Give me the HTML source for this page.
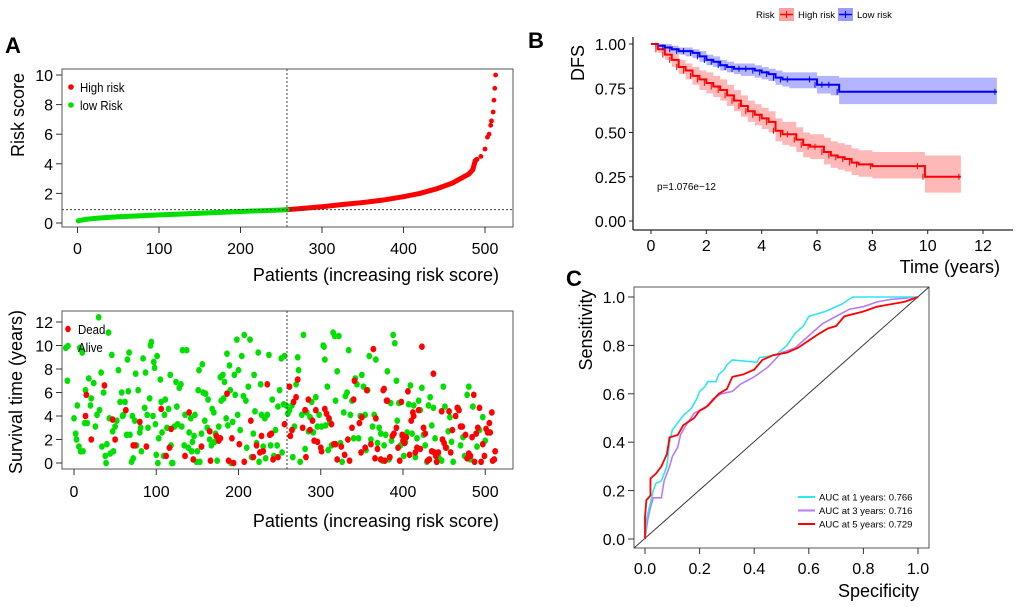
<!DOCTYPE html>
<html><head><meta charset="utf-8"><style>
body{margin:0;background:#fff;width:1020px;height:607px;overflow:hidden}
svg{display:block;font-family:"Liberation Sans",Arial,sans-serif}
</style></head><body>
<svg id="fig" width="1020" height="607" viewBox="0 0 1020 607">
<g id="pA1"></g>
<g id="pA2"></g>
<g id="pB"></g>
<g id="pC"></g>
</svg>
<script>
// ---- Panel A top data
const riskPatients=[1,10,25,50,75,100,125,150,175,200,225,250,257,275,300,325,350,375,400,420,440,460,470,480,485,488,490,495,500,503,505,507,508,510,511,512,513];
const riskValues=[0.15,0.25,0.33,0.42,0.48,0.55,0.6,0.66,0.72,0.78,0.83,0.88,0.9,0.98,1.1,1.25,1.38,1.55,1.78,2.0,2.3,2.7,3.0,3.3,3.6,4.2,4.3,4.5,5.0,5.8,6.0,6.6,6.9,7.5,8.3,9.1,10.0];
const riskTicksX=[0,100,200,300,400,500];
const riskTicksY=[0,2,4,6,8,10];
const cutoffPatient=257, cutoffRisk=0.9;
// ---- Panel A bottom data
const aliveX=[-10,-8,0,2,3,4,6,7,8,10,11,13,14,16,18,20,21,24,26,28,30,31,33,34,36,38,39,40,42,43,44,46,47,48,50,52,54,56,58,59,60,62,64,65,66,67,68,70,71,72,74,75,76,78,80,81,82,84,86,87,89,90,92,93,94,96,97,98,99,100,101,102,103,105,106,107,109,110,111,113,115,117,118,119,120,122,124,125,126,128,130,131,132,134,135,137,139,140,142,143,144,146,147,149,150,151,152,153,155,156,157,159,160,162,163,165,167,168,170,171,172,174,176,178,179,181,182,183,185,186,187,189,190,191,193,195,196,198,199,200,202,204,206,207,209,210,212,214,216,218,219,220,222,224,225,227,228,230,232,233,235,237,239,241,243,245,247,248,250,252,253,255,256,258,260,262,265,266,268,270,272,273,275,277,279,281,283,285,287,289,291,294,296,298,301,303,304,305,306,308,309,311,313,315,317,318,320,322,324,326,328,330,332,334,336,338,340,342,344,346,348,350,352,354,355,357,359,361,363,365,367,369,371,373,375,377,379,381,383,385,386,388,390,392,393,395,397,399,401,403,405,407,409,411,413,415,417,419,421,423,425,427,429,431,433,435,437,439,441,443,445,447,449,451,453,455,457,459,461,467,470,473,475,477,478,480,482,485,490,493,497,500];
const aliveY=[9.8,7,3.8,2.5,2,4.9,1.4,9.8,1,9.4,1,3.4,6.2,3.4,7.2,4.9,5.5,6.8,3.1,4.1,12.4,4.5,7.7,1.4,6,0.6,0,1.6,11.1,3.8,0.8,9.2,2.7,1,3.1,3.6,7.9,5.2,6,4,4.1,5.2,2.4,8.8,6.1,9.4,2.4,0.1,4,0.4,3.6,7.6,1.5,6.2,2.6,3,1,8.9,4.7,7.7,4.1,3,5.5,10,10.3,4,8.6,8.1,3.3,0.7,9.1,0,2.1,7.1,5.2,2.6,0.6,4.1,5.4,3,4.6,7.5,1.5,0,0,3.1,6.9,4.8,3.3,6.4,6.7,3.1,9.6,1.5,4.1,9.6,1.3,2.6,3.8,1,1.8,2.3,4.1,0.1,1,6.2,7.9,0.1,2.5,8.4,6,3.6,5.9,3,5.4,2,1.5,4.6,4.3,1.8,2.5,0.2,3.1,7.3,5.3,7.5,5.5,6.9,3.8,9.3,3.2,8.3,6.2,0,3.5,7.5,5.8,10.5,4.1,7.9,2.8,9.1,5.7,10.9,5.3,1.3,6.5,10.5,0.5,2.5,7.5,4.4,1.7,9.4,0.1,6.7,4.1,1.4,3.8,0.4,4.1,9.2,1.5,5.4,0.6,2.8,1.5,4.8,6.2,8.9,0.9,5,9.1,4.9,4.2,4.5,4.9,0.5,3.1,6.7,9,7.9,0.1,4.1,10.9,1.2,4.3,2.7,3.9,5.2,2.6,5.6,3.1,4.1,3.1,10,9.9,8.8,3.2,6.5,1.1,3.5,1.5,11.1,10.8,5.3,7.8,10.8,1.7,0.1,4.3,5.7,6,9.6,4.1,5.3,2.1,7.2,6.7,2.1,4,7.5,6.5,4.1,1.1,6.2,9.1,2,3.1,4.1,8.8,1.7,3,2.5,0.2,1.5,2.4,7.8,0.3,5.1,1.9,10.9,10.2,7,3.6,5.1,1.5,2.3,0.6,1.8,2.6,5,6.6,2.5,4.9,0.5,2.1,5.3,4.5,6.4,2.4,1.5,0.1,4.9,5.6,3.2,4.7,2.1,0.1,0.5,0.3,0.2,6.5,4.8,1.3,2.7,3.9,1.8,0.1,4.7,1.5,2.2,0.6,0.5,5.8,6.5,0.3,4.8,1.4,2.8,3.9,1.9];
const deadX=[14,15,21,37,47,50,63,72,74,80,88,106,112,116,118,135,140,145,155,165,166,173,176,178,186,188,192,194,201,207,215,218,222,226,228,230,235,238,240,242,248,256,262,263,265,267,270,272,278,281,282,285,287,290,292,294,296,300,301,305,307,310,313,316,318,320,325,329,333,335,338,340,341,347,349,350,354,356,361,364,366,367,369,373,376,377,378,380,381,384,387,389,392,394,396,398,399,400,402,404,406,408,410,412,413,415,417,419,421,423,425,427,430,432,435,437,438,440,441,443,447,448,450,452,456,458,460,464,466,468,470,472,476,478,480,482,484,486,487,489,491,493,495,497,499,501,503,505,506,508,509,511,512];
const deadY=[4,5.8,2,6.6,3.7,2,4.5,1.5,1.5,3.5,1.4,4.6,0.6,1.3,2.9,0.6,4.3,0.3,1.4,2.7,0.2,2.3,1.9,2.1,5.9,0.2,2.1,0,1.6,0.1,3.6,0.5,1.5,0.9,2.3,1,6.7,2.4,2.5,0.3,0.5,3.3,6.5,2.3,2.8,5.2,5.6,7.1,3,4.5,0.5,5.4,2.8,3.6,1.9,4.5,1.8,1.3,1,4.6,4.2,3.8,3.3,1.6,1.6,0.3,1.4,0.7,2,0.2,3,5.4,7,3.4,0.9,3.9,1.3,6.2,1.6,9.7,0.4,3.8,1.2,0.3,6.2,6.3,0.2,5.3,5.3,0.5,2.3,2.5,3,1.3,0.2,5.2,2.4,1.9,1.7,2.2,6.1,0.7,3.6,4.3,4,0.9,1.3,4.5,1.2,9.9,3,2.5,0.2,0.3,1,7.6,0.9,0.6,0.1,0.9,4.4,2,1.7,1.3,4.4,0.9,2.8,4,4.7,4.5,3.1,3.1,2.4,0.4,0.8,0.6,2.2,5.8,0.1,2.5,3,4.7,0.1,1.6,0.6,2.9,2.6,3.4,2.6,4.3,0.2,0.3,1];
const survTicksY=[0,2,4,6,8,10,12];
// ---- Panel B data
const highT=[0,0.25,0.5,0.75,1,1.25,1.5,1.75,2,2.25,2.5,2.75,3,3.25,3.5,3.75,4,4.25,4.5,4.75,5,5.25,5.5,5.75,6,6.25,6.5,6.75,7,7.25,7.5,8,9.7,9.9,11.2];
const highS=[1,0.97,0.94,0.91,0.87,0.85,0.82,0.8,0.78,0.76,0.74,0.71,0.68,0.65,0.62,0.6,0.58,0.56,0.51,0.49,0.49,0.46,0.43,0.42,0.42,0.39,0.37,0.36,0.35,0.33,0.32,0.31,0.31,0.25,0.25];
const highLo=[1,0.95,0.91,0.87,0.83,0.8,0.77,0.74,0.72,0.7,0.68,0.65,0.62,0.59,0.56,0.54,0.52,0.5,0.45,0.43,0.42,0.39,0.36,0.35,0.35,0.32,0.3,0.29,0.28,0.26,0.25,0.24,0.24,0.16,0.16];
const highHi=[1,0.99,0.97,0.95,0.91,0.89,0.87,0.85,0.84,0.82,0.8,0.77,0.74,0.71,0.68,0.66,0.64,0.62,0.58,0.56,0.56,0.53,0.5,0.49,0.49,0.47,0.45,0.44,0.43,0.41,0.4,0.39,0.39,0.37,0.37];
const lowT=[0,0.25,0.5,0.75,1,1.25,1.5,1.75,2,2.25,2.5,2.75,3,3.25,3.5,3.75,4,4.25,4.5,4.75,5,5.8,6,6.25,6.5,6.8,12.5];
const lowS=[1,0.99,0.98,0.97,0.96,0.96,0.95,0.93,0.91,0.9,0.88,0.87,0.86,0.86,0.86,0.85,0.84,0.83,0.81,0.8,0.8,0.8,0.77,0.77,0.77,0.73,0.73];
const lowLo=[1,0.98,0.96,0.95,0.94,0.93,0.92,0.9,0.88,0.87,0.85,0.84,0.83,0.82,0.82,0.81,0.8,0.79,0.77,0.76,0.75,0.75,0.72,0.72,0.71,0.66,0.66];
const lowHi=[1,1,1,0.99,0.98,0.98,0.97,0.96,0.94,0.93,0.91,0.9,0.89,0.89,0.89,0.88,0.87,0.86,0.85,0.84,0.84,0.84,0.82,0.82,0.82,0.81,0.81];
const kmTicksX=[0,2,4,6,8,10,12];
const kmTicksY=[0,0.25,0.5,0.75,1];
// ---- Panel C data
const roc1X=[0,0.005,0.02,0.03,0.04,0.06,0.08,0.09,0.1,0.12,0.14,0.17,0.19,0.2,0.22,0.23,0.26,0.27,0.29,0.3,0.32,0.41,0.42,0.48,0.52,0.55,0.58,0.6,0.66,0.72,0.76,1];
const roc1Y=[0,0.08,0.15,0.2,0.23,0.24,0.3,0.4,0.45,0.48,0.51,0.54,0.58,0.61,0.63,0.65,0.65,0.68,0.7,0.72,0.74,0.73,0.75,0.76,0.8,0.85,0.88,0.92,0.94,0.97,1,1];
const roc3X=[0,0.01,0.02,0.03,0.06,0.07,0.09,0.1,0.12,0.13,0.15,0.18,0.22,0.25,0.28,0.32,0.35,0.4,0.45,0.5,0.55,0.6,0.65,0.7,0.75,0.8,0.85,0.9,1];
const roc3Y=[0,0.08,0.13,0.17,0.17,0.24,0.3,0.34,0.38,0.43,0.47,0.52,0.54,0.58,0.6,0.61,0.64,0.67,0.71,0.77,0.79,0.84,0.89,0.92,0.95,0.96,0.98,0.99,1];
const roc5X=[0,0,0.005,0.02,0.02,0.04,0.06,0.08,0.09,0.12,0.14,0.18,0.2,0.23,0.27,0.3,0.32,0.36,0.4,0.43,0.47,0.52,0.56,0.6,0.64,0.67,0.7,0.73,0.8,0.85,0.9,0.95,1];
const roc5Y=[0,0.09,0.16,0.18,0.25,0.27,0.3,0.35,0.42,0.43,0.47,0.5,0.53,0.55,0.6,0.62,0.67,0.68,0.7,0.74,0.76,0.77,0.79,0.82,0.85,0.87,0.88,0.92,0.94,0.96,0.97,0.98,1];
const rocTicks=[0,0.2,0.4,0.6,0.8,1];
const aucLabels=["AUC at 1 years: 0.766","AUC at 3 years: 0.716","AUC at 5 years: 0.729"];

const NS="http://www.w3.org/2000/svg";
function mk(parent,tag,attrs,text){const e=document.createElementNS(NS,tag);for(const k in attrs)e.setAttribute(k,attrs[k]);if(text!==undefined)e.textContent=text;parent.appendChild(e);return e;}
const fig=document.getElementById('fig');
let t;
t=mk(fig,'text',{x:5,y:53,'font-size':22,'font-weight':'bold'},'A');


t=mk(fig,'text',{x:528,y:48,'font-size':22,'font-weight':'bold'},'B');


t=mk(fig,'text',{x:566,y:286,'font-size':22,'font-weight':'bold'},'C');



// ===== Panel A top
(function(){
 const g=document.getElementById('pA1');
 const X=p=>77.5+p*0.815, Y=v=>223-v*14.8;
 let e=mk(g,'rect',{x:62,y:69,width:451,height:158,fill:'none',stroke:'#555','stroke-width':1});
 
 
 riskTicksY.forEach(v=>{mk(g,'line',{x1:56,x2:62,y1:Y(v),y2:Y(v),stroke:'#333'});
  e=mk(g,'text',{x:53,y:Y(v)+6,'font-size':16,'text-anchor':'end'},v);
  
  });
 riskTicksX.forEach(v=>{mk(g,'line',{x1:X(v),x2:X(v),y1:227,y2:233,stroke:'#333'});
  e=mk(g,'text',{x:X(v),y:254,'font-size':16,'text-anchor':'middle'},v);
  
  });
 e=mk(g,'text',{x:499,y:281,'font-size':18,'text-anchor':'end'},'Patients (increasing risk score)');
 
 
 e=mk(g,'text',{x:0,y:0,'font-size':18,'text-anchor':'middle',transform:'translate(24,115) rotate(-90)'},'Risk score');
 
 
 const lowPts=[],highPts=[];
 riskPatients.forEach((p,i)=>{const pt=X(p)+','+Y(riskValues[i]);if(p<=cutoffPatient)lowPts.push(pt);if(p>=cutoffPatient&&p<=490)highPts.push(pt);});
 e=mk(g,'polyline',{points:lowPts.join(' '),fill:'none',stroke:'#00e000','stroke-width':5,'stroke-linecap':'round'});
 
 
 e=mk(g,'polyline',{points:highPts.join(' '),fill:'none',stroke:'#ff0000','stroke-width':5,'stroke-linecap':'round'});
 
 
 riskPatients.forEach((p,i)=>{e=mk(g,'circle',{cx:X(p),cy:Y(riskValues[i]),r:2.4,fill:p<=cutoffPatient?'#00e000':'#ff0000'});
  
  });
 e=mk(g,'line',{x1:X(cutoffPatient),x2:X(cutoffPatient),y1:69,y2:227,stroke:'#444','stroke-dasharray':'2,2'});
 
 
 e=mk(g,'line',{x1:62,x2:513,y1:Y(cutoffRisk),y2:Y(cutoffRisk),stroke:'#444','stroke-dasharray':'2,2'});
 
 
 e=mk(g,'circle',{cx:71,cy:87,r:2.8,fill:'#ff0000'});
 
 
 e=mk(g,'text',{x:80,y:92,'font-size':13,transform:'scale(0.88,1)',style:'transform-origin:80px 92px'},'High risk');
 
 
 e=mk(g,'circle',{cx:71,cy:105,r:2.8,fill:'#00e000'});
 
 
 e=mk(g,'text',{x:80,y:110,'font-size':13,transform:'scale(0.88,1)',style:'transform-origin:80px 110px'},'low Risk');
 
 
})();

// ===== Panel A bottom
(function(){
 const g=document.getElementById('pA2');
 const X=p=>74+p*0.8225, Y=v=>463-v*11.75;
 let e=mk(g,'rect',{x:62,y:311,width:451,height:158,fill:'none',stroke:'#555'});
 
 
 survTicksY.forEach(v=>{mk(g,'line',{x1:56,x2:62,y1:Y(v),y2:Y(v),stroke:'#333'});
  e=mk(g,'text',{x:53,y:Y(v)+6,'font-size':16,'text-anchor':'end'},v);
  
  });
 riskTicksX.forEach(v=>{mk(g,'line',{x1:X(v),x2:X(v),y1:469,y2:475,stroke:'#333'});
  e=mk(g,'text',{x:X(v),y:497,'font-size':16,'text-anchor':'middle'},v);
  
  });
 e=mk(g,'text',{x:499,y:527,'font-size':18,'text-anchor':'end'},'Patients (increasing risk score)');
 
 
 e=mk(g,'text',{x:0,y:0,'font-size':18,'text-anchor':'middle',transform:'translate(22,392) rotate(-90)'},'Survival time (years)');
 
 
 aliveX.forEach((p,i)=>{e=mk(g,'ellipse',{cx:X(p),cy:Y(aliveY[i]),rx:2.9,ry:3.3,fill:'#00e000'});
  
  });
 deadX.forEach((p,i)=>{e=mk(g,'ellipse',{cx:X(p),cy:Y(deadY[i]),rx:2.9,ry:3.3,fill:'#ff0000'});
  
  });
 e=mk(g,'line',{x1:X(259),x2:X(259),y1:311,y2:469,stroke:'#444','stroke-dasharray':'2,2'});
 
 
 e=mk(g,'ellipse',{cx:68,cy:329,rx:2.8,ry:3.2,fill:'#ff0000'});
 
 
 e=mk(g,'text',{x:78,y:334,'font-size':13,transform:'scale(0.88,1)',style:'transform-origin:78px 334px'},'Dead');
 
 
 e=mk(g,'ellipse',{cx:68,cy:346,rx:2.8,ry:3.2,fill:'#00e000'});
 
 
 e=mk(g,'text',{x:78,y:352,'font-size':13,transform:'scale(0.88,1)',style:'transform-origin:78px 352px'},'Alive');
 
 
})();

// ===== Panel B
(function(){
 const g=document.getElementById('pB');
 const X=v=>651+v*27.67, Y=v=>221-v*177;
 let e;
 function stepPts(T,S){let s=[];for(let i=0;i<T.length;i++){if(i>0)s.push(X(T[i])+','+Y(S[i-1]));s.push(X(T[i])+','+Y(S[i]));}return s;}
 function band(T,Lo,Hi){const up=stepPts(T,Hi),lo=stepPts(T,Lo).reverse();return up.concat(lo).join(' ');}
 e=mk(g,'polygon',{points:band(lowT,lowLo,lowHi),fill:'#9b9bff','fill-opacity':0.75});
 
 
 e=mk(g,'polygon',{points:band(highT,highLo,highHi),fill:'#ffa0a0','fill-opacity':0.75});
 
 
 e=mk(g,'polyline',{points:stepPts(lowT,lowS).join(' '),fill:'none',stroke:'#0000ff','stroke-width':2});
 
 
 e=mk(g,'polyline',{points:stepPts(highT,highS).join(' '),fill:'none',stroke:'#ff0000','stroke-width':2});
 
 
 lowT.forEach((tt,i)=>{if(i>0){mk(g,'line',{x1:X(tt)-2,x2:X(tt)-2,y1:Y(lowS[i])-3,y2:Y(lowS[i])+3,stroke:'#0000ff'});}});
 highT.forEach((tt,i)=>{if(i>0){mk(g,'line',{x1:X(tt)-2,x2:X(tt)-2,y1:Y(highS[i])-3,y2:Y(highS[i])+3,stroke:'#ff0000'});}});
 mk(g,'line',{x1:633,x2:633,y1:37,y2:230,stroke:'#222','stroke-width':1.3});
 mk(g,'line',{x1:633,x2:1013,y1:230,y2:230,stroke:'#222','stroke-width':1.3});
 kmTicksY.forEach(v=>{mk(g,'line',{x1:629,x2:633,y1:Y(v),y2:Y(v),stroke:'#222'});
  e=mk(g,'text',{x:626,y:Y(v)+6,'font-size':16,'text-anchor':'end'},v.toFixed(2));
  
  });
 kmTicksX.forEach(v=>{mk(g,'line',{x1:X(v),x2:X(v),y1:230,y2:234,stroke:'#222'});
  e=mk(g,'text',{x:X(v),y:251,'font-size':16,'text-anchor':'middle'},v);
  
  });
 e=mk(g,'text',{x:1000,y:273,'font-size':18,'text-anchor':'end'},'Time (years)');
 
 
 e=mk(g,'text',{x:0,y:0,'font-size':18,'text-anchor':'middle',transform:'translate(584,63) rotate(-90)'},'DFS');
 
 
 e=mk(g,'text',{x:657,y:190,'font-size':10},'p=1.076e\u221212');
 
 
 e=mk(g,'text',{x:756,y:18,'font-size':9.5},'Risk');
 
 
 mk(g,'rect',{x:779,y:8,width:15,height:13,fill:'#ffa0a0'});
 mk(g,'line',{x1:780,x2:793,y1:14.5,y2:14.5,stroke:'#ff0000','stroke-width':1.5});
 mk(g,'line',{x1:786.5,x2:786.5,y1:11,y2:18,stroke:'#ff0000'});
 e=mk(g,'text',{x:798,y:18,'font-size':9.5},'High risk');
 
 
 mk(g,'rect',{x:838,y:8,width:15,height:13,fill:'#9b9bff'});
 mk(g,'line',{x1:839,x2:852,y1:14.5,y2:14.5,stroke:'#0000ff','stroke-width':1.5});
 mk(g,'line',{x1:845.5,x2:845.5,y1:11,y2:18,stroke:'#0000ff'});
 e=mk(g,'text',{x:857,y:18,'font-size':9.5},'Low risk');
 
 
})();

// ===== Panel C
(function(){
 const g=document.getElementById('pC');
 const X=v=>645+v*273, Y=v=>539-v*242;
 let e=mk(g,'rect',{x:634,y:287,width:295,height:261,fill:'none',stroke:'#555'});
 
 
 e=mk(g,'line',{x1:634,y1:548,x2:929,y2:287,stroke:'#333','stroke-width':1});
 
 
 rocTicks.forEach(v=>{mk(g,'line',{x1:628,x2:634,y1:Y(v),y2:Y(v),stroke:'#333'});
  e=mk(g,'text',{x:625,y:Y(v)+6,'font-size':16,'text-anchor':'end'},v.toFixed(1));
  
  
  mk(g,'line',{x1:X(v),x2:X(v),y1:548,y2:554,stroke:'#333'});
  e=mk(g,'text',{x:X(v),y:574,'font-size':16,'text-anchor':'middle'},v.toFixed(1));
  
  });
 e=mk(g,'text',{x:919,y:597,'font-size':18,'text-anchor':'end'},'Specificity');
 
 
 e=mk(g,'text',{x:0,y:0,'font-size':18,'text-anchor':'middle',transform:'translate(592,330) rotate(-90)'},'Sensitivity');
 
 
 function pts(xs,ys){return xs.map((x,i)=>X(x)+','+Y(ys[i])).join(' ');}
 e=mk(g,'polyline',{points:pts(roc3X,roc3Y),fill:'none',stroke:'#b77cf2','stroke-width':1.6});
 
 
 e=mk(g,'polyline',{points:pts(roc1X,roc1Y),fill:'none',stroke:'#2ee6f0','stroke-width':1.6});
 
 
 e=mk(g,'polyline',{points:pts(roc5X,roc5Y),fill:'none',stroke:'#ff0000','stroke-width':1.8});
 
 
 const cols=['#2ee6f0','#b77cf2','#ff0000'];
 aucLabels.forEach((s,i)=>{const yy=497+i*13.5;
  mk(g,'line',{x1:798,x2:815,y1:yy,y2:yy,stroke:cols[i],'stroke-width':2});
  e=mk(g,'text',{x:819,y:yy+3.5,'font-size':9.5},s);
  
  });
})();
</script>
</body></html>
